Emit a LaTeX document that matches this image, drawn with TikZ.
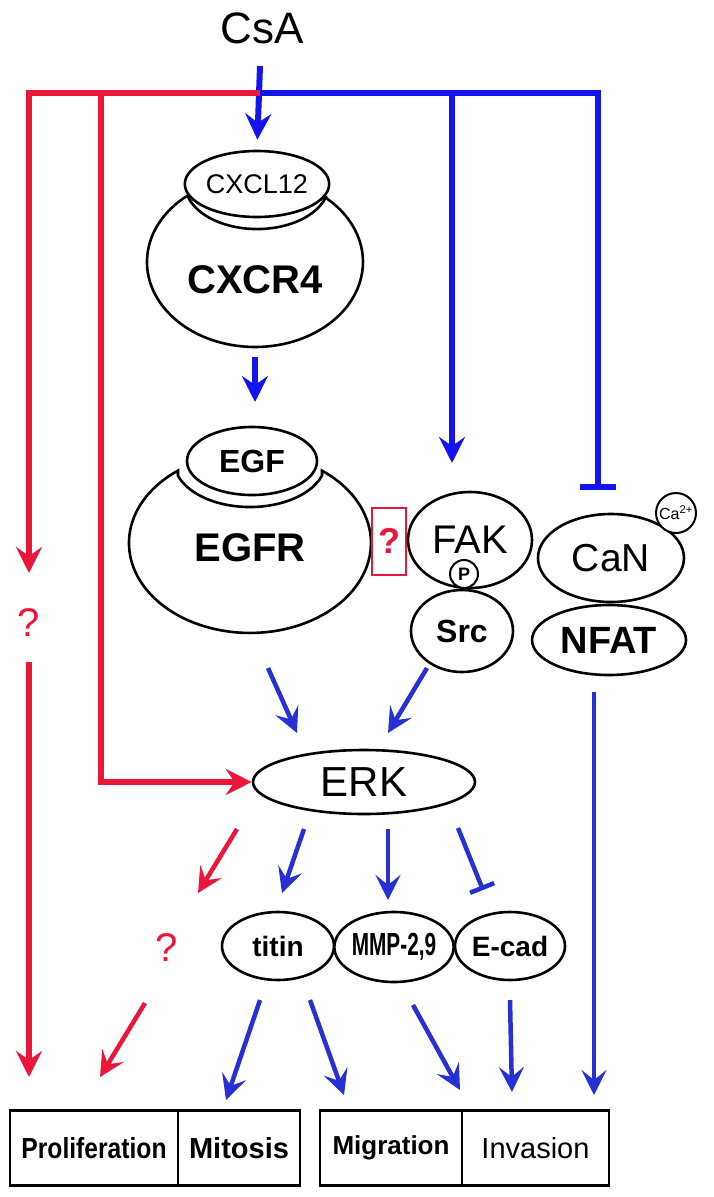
\documentclass[tikz,border=0pt]{standalone}
\usepackage{fontspec}
\setmainfont{Liberation Sans}
\usepackage{graphicx}
\usetikzlibrary{arrows.meta,shapes.geometric}

\definecolor{csaRed}{RGB}{236,22,58}
\definecolor{csaBlue}{RGB}{20,20,238}
\definecolor{sigBlue}{RGB}{38,48,212}
\newcommand{\fsz}[1]{\fontsize{#1}{#1}\selectfont}

\tikzset{
  mol/.style={ellipse, draw, line width=2.6pt, inner sep=0pt, fill=white},
  outcome/.style={rectangle, draw, line width=2.6pt, inner sep=0pt, minimum height=75pt},
  hvy/.style={line width=6pt, line join=miter},
  hvyarrow/.style={hvy, -{Stealth[length=26pt,width=26pt,inset=9pt]}},
  lgtarrow/.style={line width=4.5pt, -{Stealth[length=25pt,width=25pt,inset=10pt]}},
}

\begin{document}
\begin{tikzpicture}[x=1pt,y=1pt,yscale=-1]
\useasboundingbox (0,0) rectangle (714,1197);

% Text Node
\node (csa) at (262,28) {\fsz{44}CsA};

%Shape: receptors
\draw[line width=2.6pt] (188.5,195) arc[start angle=232,end angle=-52,x radius=108,y radius=85] -- (325.9,197.2) arc[start angle=17,end angle=163,x radius=72,y radius=45] -- cycle;
\draw[line width=2.6pt] (178,470.6) arc[start angle=233.5,end angle=-53.5,x radius=121,y radius=90] -- (322,475.7) arc[start angle=18.6,end angle=161.4,x radius=76,y radius=46] -- cycle;
\node (cxcr) at (255,280) {\fsz{40}\bfseries CXCR4};
\node (egfr) at (250,548) {\fsz{40}\bfseries EGFR};

% Ligands
\node[mol, minimum width=116pt, minimum height=66pt] (cxcl) at (257,184) {\fsz{27}CXCL12};
\node[mol, minimum width=130pt, minimum height=68pt] (egf) at (252,461) {\fsz{32}\bfseries EGF};

% Kinases
\node[draw=csaRed, line width=2pt, minimum width=34pt, minimum height=67pt, inner sep=0pt, text=csaRed] (qbox) at (389,541) {\fsz{36}\bfseries ?};
\node[mol, minimum width=102pt, minimum height=82pt] (src) at (462,631) {\fsz{32}\bfseries Src};
\node[mol, minimum width=124pt, minimum height=96pt] (fak) at (470,540) {\fsz{40}FAK};
\node[circle, draw, line width=2pt, fill=white, minimum size=28pt, inner sep=0pt] (pho) at (464,574) {\fsz{18}\bfseries P};
\node[mol, minimum width=146pt, minimum height=88pt] (can) at (611,558) {\fsz{39}CaN};
\node[circle, draw, line width=2pt, fill=white, minimum size=40pt, inner sep=0pt] (caion) at (676,513) {\fsz{16}Ca\textsuperscript{2+}};
\node[mol, minimum width=154pt, minimum height=70pt] (nfat) at (609,640) {\fsz{38}\bfseries NFAT};

\node[mol, minimum width=222pt, minimum height=64pt] (erk) at (364,782) {\fsz{42}ERK};
\node[mol, minimum width=112pt, minimum height=68pt] (titin) at (278,946) {\fsz{28}\bfseries titin};
\node[mol, minimum width=102pt, minimum height=70pt] (mmp) at (394,947) {\scalebox{0.65}[1]{\fsz{32}\bfseries MMP-2,9}};
\node[mol, minimum width=110pt, minimum height=68pt] (ecad) at (510,946) {\fsz{28}\bfseries E-cad};

\node[text=csaRed] (qleft) at (29,623) {\fsz{40}?};
\node[text=csaRed] (qmid) at (167,948) {\fsz{40}?};

% Outcomes
\node[outcome, minimum width=168pt] (prolif) at (94,1148) {\scalebox{0.85}[1]{\fsz{29}\bfseries Proliferation}};
\node[outcome, minimum width=122pt] (mitosis) at (239,1148) {\fsz{29}\bfseries Mitosis};
\node[outcome, minimum width=142pt] (migr) at (391,1148) {\fsz{26}\bfseries Migration};
\node[outcome, minimum width=147pt] (invas) at (535.5,1148) {\fsz{29}Invasion};

% Branch points and free arrow ends
\coordinate (csaFoot) at (260,66);
\coordinate (split) at (260,93);
\coordinate (redL) at (29,93);
\coordinate (redM) at (101,93);
\coordinate (fakTop) at (452,93);
\coordinate (canTop) at (598,93);
\coordinate (fakTip) at (452,463);
\coordinate (canBar) at (598,490);
\coordinate (leftTip) at (29,573);
\coordinate (erkBend) at (101,782);
\coordinate (cxcrFoot) at (255,357);
\coordinate (egfHead) at (255,402);
\coordinate (egfrFoot) at (268,668);
\coordinate (erkHeadL) at (297,733);
\coordinate (srcFoot) at (427,668);
\coordinate (erkHeadR) at (388,733);
\coordinate (erkA) at (237,829);
\coordinate (qmidHead) at (198,893);
\coordinate (erkB) at (304,829);
\coordinate (titinHead) at (282,893);
\coordinate (erkC) at (388,829);
\coordinate (mmpHead) at (388,900);
\coordinate (erkD) at (458,828);
\coordinate (ecadBar) at (483,890);
\coordinate (qleftFoot) at (29,662);
\coordinate (prolifHead) at (29,1077);
\coordinate (qmidFoot) at (145,1003);
\coordinate (prolifHeadB) at (100,1077);
\coordinate (titinFootA) at (260,1000);
\coordinate (mitosisHead) at (226,1100);
\coordinate (titinFootB) at (310,1000);
\coordinate (migrHead) at (344,1095);
\coordinate (mmpFoot) at (413,1005);
\coordinate (migrHeadB) at (460,1090);
\coordinate (ecadFoot) at (510,1000);
\coordinate (invasHead) at (512,1092);
\coordinate (nfatFoot) at (594,692);
\coordinate (invasHeadB) at (594,1095);

%Straight Lines
\draw[hvyarrow,csaBlue] (csaFoot) -- (cxcl.north) [shorten >=10pt];
\draw[hvyarrow,csaRed] (split) -- (redL) -- (leftTip);
\draw[hvyarrow,csaRed] (redM) -- (erkBend) -- (erk.west);
\draw[hvy,csaBlue,-{Bar[width=36pt]}] (split) -- (canTop) -- (canBar);
\draw[hvyarrow,csaBlue] (fakTop) -- (fakTip);
\draw[hvyarrow,csaBlue] (cxcrFoot) -- (egfHead);

\draw[lgtarrow,sigBlue] (egfrFoot) -- (erkHeadL);
\draw[lgtarrow,sigBlue] (srcFoot) -- (erkHeadR);
\draw[lgtarrow,csaRed] (erkA) -- (qmidHead);
\draw[lgtarrow,sigBlue] (erkB) -- (titinHead);
\draw[lgtarrow,sigBlue] (erkC) -- (mmpHead);
\draw[line width=4.5pt,sigBlue,-{Bar[width=26pt]}] (erkD) -- (ecadBar);

\draw[hvyarrow,csaRed] (qleftFoot) -- (prolifHead);
\draw[lgtarrow,csaRed] (qmidFoot) -- (prolifHeadB);
\draw[lgtarrow,sigBlue] (titinFootA) -- (mitosisHead);
\draw[lgtarrow,sigBlue] (titinFootB) -- (migrHead);
\draw[lgtarrow,sigBlue] (mmpFoot) -- (migrHeadB);
\draw[lgtarrow,sigBlue] (ecadFoot) -- (invasHead);
\draw[lgtarrow,sigBlue] (nfatFoot) -- (invasHeadB);

\end{tikzpicture}
\end{document}
